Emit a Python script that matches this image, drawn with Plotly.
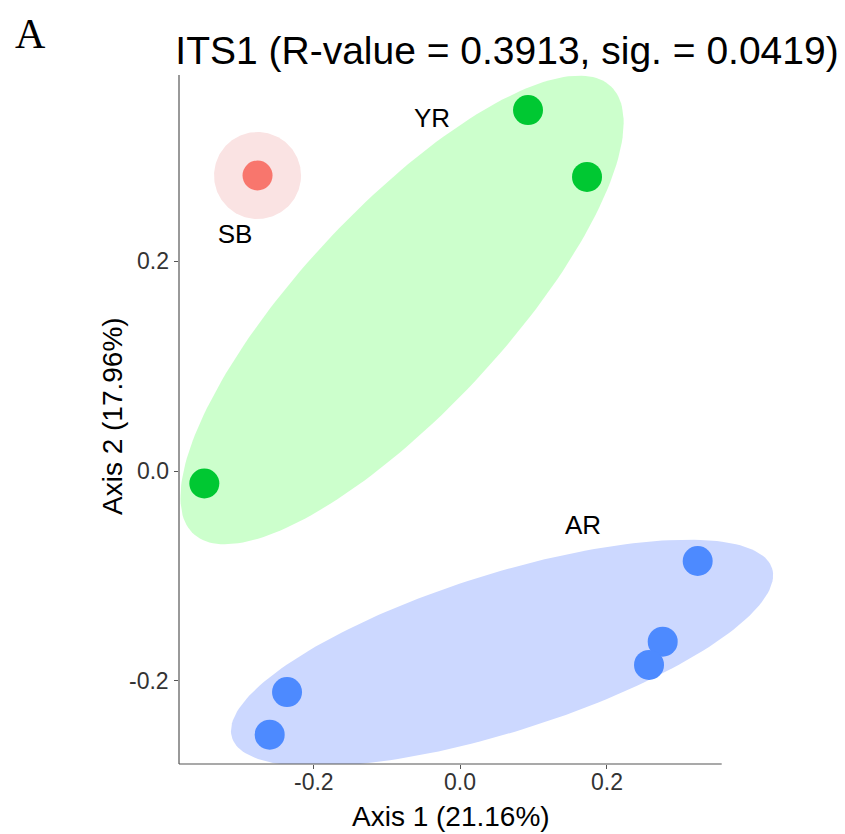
import numpy as np
import plotly.graph_objects as go

# ---------------- data ----------------
groups = ["SB", "YR", "AR"]
sb_x = [-0.2770]
sb_y = [0.2817]
yr_x = [0.0925, 0.1731, -0.3497]
yr_y = [0.3441, 0.2803, -0.0119]
ar_x = [0.3243, 0.2765, 0.2578, -0.2367, -0.2604]
ar_y = [-0.0858, -0.1627, -0.1849, -0.2107, -0.2514]

# group label anchor positions (data units)
label_x = [-0.3078, -0.0387, 0.1676]
label_y = [0.224, 0.3346, -0.0543]

x_ticks = [-0.2, 0.0, 0.2]
y_ticks = [-0.2, 0.0, 0.2]

title_text = "ITS1 (R-value = 0.3913, sig. = 0.0419)"
x_title = "Axis 1 (21.16%)"
y_title = "Axis 2 (17.96%)"

# ellipse (mark) definitions: centre (data), semi-axes (px), angle (deg)
ell_cx = {"SB": sb_x[0], "YR": -0.0796, "AR": 0.0570}
ell_cy = {"SB": sb_y[0], "YR": 0.1535, "AR": -0.1735}
ell_a = {"SB": 43.5, "YR": 306, "AR": 283}
ell_b = {"SB": 43.5, "YR": 102, "AR": 79}
ell_ang = {"SB": 0, "YR": 47, "AR": 17.4}

# ---------------- styles ----------------
pt_col = {"SB": "#F8766D", "YR": "#00C832", "AR": "#4D8AFF"}
fill_col = {"SB": "#FAE3E3", "YR": "#CCFFCC", "AR": "#CCD8FF"}
FONT = "Liberation Sans, Arial"

# page body has an 8px margin -> figure is 8px smaller, margins shifted
W, H = 837, 826
ML, MR, MT, MB = 171, 55, 52, 70
XR = [-0.3843, 0.4504]
YR = [-0.2793, 0.3918]
X_AXIS_END = 0.3571
Y_AXIS_END = 0.3775
PW, PH = W - ML - MR, H - MT - MB

pxx = PW / (XR[1] - XR[0])
pxy = PH / (YR[1] - YR[0])


def ellipse(g, n=200):
    t = np.linspace(0, 2 * np.pi, n)
    th = np.deg2rad(ell_ang[g])
    u = ell_a[g] * np.cos(t)
    v = ell_b[g] * np.sin(t)
    dx = u * np.cos(th) - v * np.sin(th)
    dy = u * np.sin(th) + v * np.cos(th)
    return ell_cx[g] + dx / pxx, ell_cy[g] + dy / pxy


pts = {"SB": (sb_x, sb_y), "YR": (yr_x, yr_y), "AR": (ar_x, ar_y)}

fig = go.Figure()
for g in groups:
    ex, ey = ellipse(g)
    fig.add_trace(go.Scatter(x=ex, y=ey, mode="lines", fill="toself",
                             fillcolor=fill_col[g], line=dict(width=0),
                             hoverinfo="skip", showlegend=False))
for g in groups:
    x, y = pts[g]
    fig.add_trace(go.Scatter(x=x, y=y, mode="markers",
                             marker=dict(size=30, color=pt_col[g], line=dict(width=0)),
                             showlegend=False, name=g))

fig.add_trace(go.Scatter(x=label_x, y=label_y, mode="text", text=groups,
                         textfont=dict(size=26, color="black", family=FONT),
                         showlegend=False, hoverinfo="skip"))

fig.update_xaxes(range=XR, tickvals=x_ticks, showticklabels=False,
                 showgrid=False, zeroline=False, showline=False,
                 ticks="outside", ticklen=4, tickcolor="#555555")
fig.update_yaxes(range=YR, tickvals=y_ticks, showticklabels=False,
                 showgrid=False, zeroline=False, showline=False,
                 ticks="outside", ticklen=4, tickcolor="#555555")

# tick labels placed at the axis tick values
for v in x_ticks:
    fig.add_annotation(text=f"{v:.1f}", xref="x", yref="paper", x=v, y=0,
                       yshift=-18, showarrow=False, xanchor="center", yanchor="middle",
                       font=dict(size=23, color="#333333", family=FONT))
for v in y_ticks:
    fig.add_annotation(text=f"{v:.1f}", xref="paper", yref="y", x=0, y=v,
                       xshift=-8, showarrow=False, xanchor="right", yanchor="middle",
                       font=dict(size=23, color="#333333", family=FONT))

fig.add_shape(type="line", xref="x", yref="paper", x0=XR[0], x1=X_AXIS_END,
              y0=0, y1=0, line=dict(color="#555555", width=1.2), layer="above")
fig.add_shape(type="line", xref="paper", yref="y", x0=0, x1=0,
              y0=YR[0], y1=Y_AXIS_END, line=dict(color="#555555", width=1.2), layer="above")

fig.add_annotation(text=x_title, xref="paper", yref="paper",
                   x=(443 - ML) / PW, y=-(808 - (H - MB)) / PH,
                   showarrow=False, xanchor="center", yanchor="middle",
                   font=dict(size=28, color="black", family=FONT))
fig.add_annotation(text=y_title, xref="paper", yref="paper",
                   x=-(ML - 105) / PW, y=(H - MB - 408) / PH,
                   textangle=-90, showarrow=False, xanchor="center", yanchor="middle",
                   font=dict(size=28, color="black", family=FONT))
fig.add_annotation(text="A", xref="paper", yref="paper",
                   x=-(ML - 22) / PW, y=1 + (MT - 26) / PH,
                   showarrow=False, xanchor="center", yanchor="middle",
                   font=dict(size=42, color="black",
                             family="Liberation Serif, Times New Roman"))

fig.update_layout(
    width=W, height=H,
    margin=dict(l=ML, r=MR, t=MT, b=MB),
    paper_bgcolor="white", plot_bgcolor="white",
    title=dict(text=title_text, x=499 / W, xref="container", xanchor="center",
               y=1 - 42 / H, yref="container", yanchor="middle",
               font=dict(size=39, color="black", family=FONT)),
)

fig.write_html("out.html")
